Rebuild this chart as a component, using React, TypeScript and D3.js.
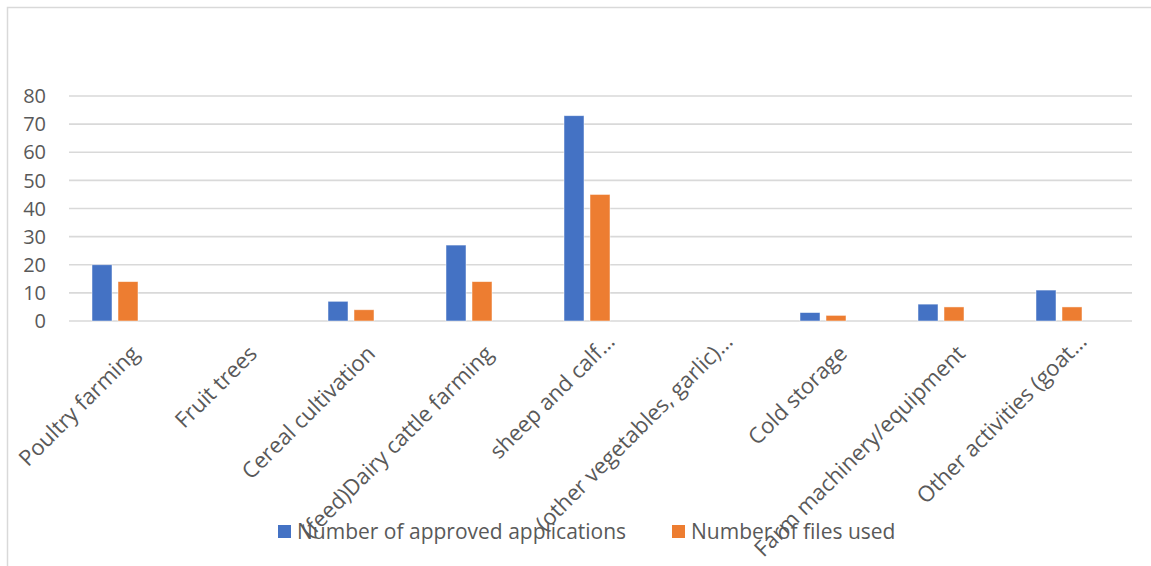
import React from "react";
import * as d3 from "d3";

const categories = [
  "Poultry farming",
  "Fruit trees",
  "Cereal cultivation",
  "(feed)Dairy cattle farming",
  "sheep and calf…",
  "(other vegetables, garlic)…",
  "Cold storage",
  "Farm machinery/equipment",
  "Other activities (goat…",
];
const seriesNames = ["Number of approved applications", "Number of files used"];
const approved = [20, 0, 7, 27, 73, 0, 3, 6, 11];
const filesUsed = [14, 0, 4, 14, 45, 0, 2, 5, 5];
const yTicks = [0, 10, 20, 30, 40, 50, 60, 70, 80];
const colors = ["#4472C4", "#ED7D31"];

const W = 1151;
const H = 566;
const FONT = "'Open Sans', 'Noto Sans', sans-serif";
const TEXT = "#595959";
const GRID = "#d9d9d9";

export default function App() {
  const x = d3.scaleBand<string>().domain(categories).range([56, 1118]);
  const bw = x.bandwidth();
  const inner = d3
    .scaleBand<string>()
    .domain(seriesNames)
    .range([bw / 2 - 23, bw / 2 + 23])
    .paddingInner(0.2308);
  const y = d3.scaleLinear().domain([0, 80]).range([321, 96]);
  const values = [approved, filesUsed];

  return (
    <svg
      width={W}
      height={H}
      style={{ position: "absolute", left: 0, top: 0, display: "block" }}
      fontFamily={FONT}
    >
      <rect x={0} y={0} width={W} height={H} fill="#fff" />
      <rect x={7.5} y={7.5} width={W} height={H} fill="#fff" stroke={GRID} strokeWidth={1.5} />

      {yTicks.map((t) => (
        <g key={t}>
          <line x1={69} x2={1132} y1={y(t)} y2={y(t)} stroke={GRID} strokeWidth={1.6} />
          <text x={46} y={y(t)} dy="0.36em" textAnchor="end" fontSize={20} fill={TEXT}>
            {t}
          </text>
        </g>
      ))}

      {seriesNames.map((s, si) => (
        <g key={s}>
          {categories.map((c, ci) => {
            const v = values[si][ci];
            if (v <= 0) return null;
            const bx = (x(c) ?? 0) + (inner(s) ?? 0);
            return (
              <rect
                key={c}
                x={bx}
                y={y(v)}
                width={inner.bandwidth()}
                height={y(0) - y(v)}
                fill={colors[si]}
                stroke="#fff"
                strokeOpacity={0.6}
                strokeWidth={0.8}
              />
            );
          })}
        </g>
      ))}

      {categories.map((c) => {
        const cx = (x(c) ?? 0) + bw / 2;
        const truncated = c.endsWith("…");
        const ax = cx + (truncated ? 29 : 25.5);
        const ay = truncated ? 343 : 355;
        return (
          <text
            key={c}
            transform={`translate(${ax},${ay}) rotate(-45)`}
            textAnchor="end"
            fontSize={22}
            fill={TEXT}
          >
            {c}
          </text>
        );
      })}

      {seriesNames.map((s, si) => {
        const lx = si === 0 ? 278 : 672;
        return (
          <g key={s}>
            <rect x={lx} y={525} width={13} height={13} fill={colors[si]} />
            <text x={lx + 19} y={531.5} dy="0.36em" fontSize={21} fill={TEXT}>
              {s}
            </text>
          </g>
        );
      })}
    </svg>
  );
}
